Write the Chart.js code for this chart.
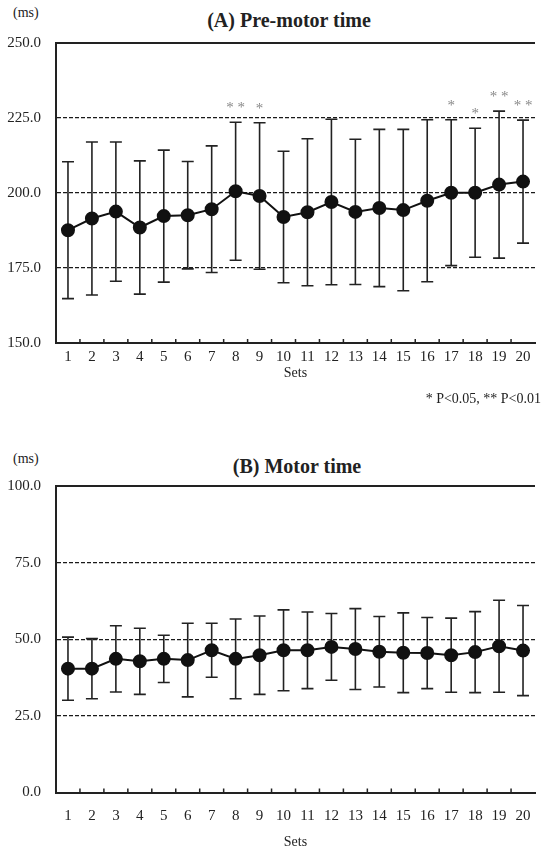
<!DOCTYPE html>
<html>
<head>
<meta charset="utf-8">
<script src="https://cdn.jsdelivr.net/npm/chart.js@4.4.0/dist/chart.umd.min.js"></script>
<style>
    body { margin: 0; background: #fff; width: 541px; height: 851px; overflow: hidden; position: relative;
           font-family: "Liberation Serif", "Times New Roman", serif; color: #222; }
    .lbl { position: absolute; white-space: nowrap; line-height: 1; }
    .ttl { font-weight: bold; font-size: 20px; transform: translateX(-50%); }
    .unit { font-size: 14px; }
    canvas { position: absolute; left: 0; }
</style>
</head>
<body>
<div class="lbl unit" style="left:13px; top:6px;">(ms)</div>
<div class="lbl ttl" style="left:289px; top:10px;">(A) Pre-motor time</div>
<canvas id="premotorChart" width="543" height="420" style="top:0;"></canvas>
<div class="lbl unit" style="right:0; top:392px;">* P&lt;0.05, ** P&lt;0.01</div>

<div class="lbl unit" style="left:13px; top:452px;">(ms)</div>
<div class="lbl ttl" style="left:297px; top:456px;">(B) Motor time</div>
<canvas id="motorChart" width="543" height="431" style="top:420px;"></canvas>

<script>
const sets = ['1', '2', '3', '4', '5', '6', '7', '8', '9', '10', '11', '12', '13', '14', '15', '16', '17', '18', '19', '20'];

// (A) pre-motor time, mean and SD (ms)
const premotorMean = [187.6, 191.5, 193.8, 188.5, 192.3, 192.6, 194.6, 200.6, 199.0, 192.0,
                      193.6, 197.0, 193.7, 195.0, 194.3, 197.4, 200.1, 200.1, 202.8, 203.8];
const premotorSd = [22.8, 25.5, 23.2, 22.2, 22.0, 17.9, 21.1, 23.0, 24.4, 21.9,
                    24.5, 27.6, 24.2, 26.2, 26.9, 27.0, 24.3, 21.5, 24.5, 20.5];
const premotorSig = ['', '', '', '', '', '', '', '**', '*', '',
                     '', '', '', '', '', '', '*', '*', '**', '**'];

// (B) motor time, mean and SD (ms)
const motorMean = [40.4, 40.4, 43.6, 42.8, 43.6, 43.2, 46.4, 43.6, 44.8, 46.4,
                   46.4, 47.5, 46.8, 45.9, 45.6, 45.5, 44.8, 45.8, 47.7, 46.3];
const motorSd = [10.3, 9.8, 10.8, 10.8, 7.7, 12.0, 8.8, 13.0, 12.8, 13.2,
                 12.5, 10.9, 13.2, 11.5, 13.0, 11.6, 12.1, 13.2, 15.0, 14.7];

const FONT = '"Liberation Serif", "Times New Roman", serif';
const INK = '#222';

// vertical SD bars with caps, under the line
const errorBars = {
    id: 'errorBars',
    beforeDatasetsDraw(chart, args, opts) {
        const ctx = chart.ctx;
        const y = chart.scales.y;
        const ds = chart.data.datasets[0];
        const meta = chart.getDatasetMeta(0);
        ctx.save();
        ctx.strokeStyle = INK;
        ctx.lineWidth = 1.6;
        meta.data.forEach((pt, i) => {
            const top = y.getPixelForValue(ds.data[i] + opts.sd[i]);
            const bot = y.getPixelForValue(ds.data[i] - opts.sd[i]);
            ctx.beginPath();
            ctx.moveTo(pt.x, top); ctx.lineTo(pt.x, bot);
            ctx.moveTo(pt.x - 6, top); ctx.lineTo(pt.x + 6, top);
            ctx.moveTo(pt.x - 6, bot); ctx.lineTo(pt.x + 6, bot);
            ctx.stroke();
        });
        ctx.restore();
    }
};

// significance stars above the upper caps
const stars = {
    id: 'stars',
    afterDatasetsDraw(chart, args, opts) {
        if (!opts.marks) return;
        const ctx = chart.ctx;
        const y = chart.scales.y;
        const ds = chart.data.datasets[0];
        const meta = chart.getDatasetMeta(0);
        ctx.save();
        ctx.fillStyle = '#888';
        ctx.font = '15px ' + FONT;
        ctx.textAlign = 'center';
        ctx.textBaseline = 'middle';
        meta.data.forEach((pt, i) => {
            if (!opts.marks[i]) return;
            const top = y.getPixelForValue(ds.data[i] + opts.sd[i]);
            ctx.fillText(opts.marks[i].split('').join(' '), pt.x, top - 14);
        });
        ctx.restore();
    }
};

// solid top frame line and small inward ticks between sets
const frame = {
    id: 'frame',
    afterDraw(chart) {
        const ctx = chart.ctx;
        const area = chart.chartArea;
        const x = chart.scales.x;
        ctx.save();
        ctx.strokeStyle = INK;
        ctx.lineWidth = 2;
        ctx.beginPath();
        ctx.moveTo(area.left, area.top); ctx.lineTo(area.right, area.top);
        ctx.stroke();
        ctx.lineWidth = 1.5;
        ctx.beginPath();
        for (let i = 0; i < sets.length - 1; i++) {
            const bx = (x.getPixelForValue(i) + x.getPixelForValue(i + 1)) / 2;
            ctx.moveTo(bx, area.bottom); ctx.lineTo(bx, area.bottom - 4);
        }
        ctx.stroke();
        ctx.restore();
    }
};

function makeChart(id, mean, sd, marks, yMin, yMax, pad) {
    const ctx = document.getElementById(id).getContext('2d');
    return new Chart(ctx, {
        type: 'line',
        data: {
            labels: sets,
            datasets: [{
                data: mean,
                borderColor: '#111',
                borderWidth: 2,
                backgroundColor: '#111',
                pointRadius: 6,
                pointBackgroundColor: '#111',
                pointBorderColor: '#111',
                tension: 0
            }]
        },
        options: {
            responsive: false,
            animation: false,
            devicePixelRatio: 1,
            layout: { padding: { top: pad.top, bottom: pad.bottom, left: 0, right: 0 } },
            scales: {
                x: {
                    offset: true,
                    grid: { display: false },
                    border: { display: true, color: INK, width: 2 },
                    ticks: { color: INK, font: { family: FONT, size: 15 }, padding: pad.tick, maxRotation: 0, autoSkip: false },
                    title: { display: true, text: 'Sets', color: INK, font: { family: FONT, size: 14 }, padding: 0 },
                    afterFit: (s) => { s.height = pad.axisH; }
                },
                y: {
                    min: yMin,
                    max: yMax,
                    ticks: {
                        stepSize: 25,
                        color: INK,
                        font: { family: FONT, size: 15 },
                        padding: 15,
                        callback: (v) => v.toFixed(1)
                    },
                    grid: {
                        drawTicks: false,
                        lineWidth: 1.2,
                        color: (c) => (c.tick && (c.tick.value === yMin || c.tick.value === yMax)) ? 'rgba(0,0,0,0)' : '#1a1a1a'
                    },
                    border: { display: true, color: INK, width: 2, dash: [4, 2] },
                    afterFit: (s) => { s.width = 56; }
                }
            },
            plugins: {
                legend: { display: false },
                tooltip: { enabled: false },
                errorBars: { sd: sd },
                stars: { sd: sd, marks: marks }
            }
        },
        plugins: [errorBars, stars, frame]
    });
}

makeChart('premotorChart', premotorMean, premotorSd, premotorSig, 150, 250,
          { top: 43, bottom: 38.6, axisH: 38.4, tick: -3 });
makeChart('motorChart', motorMean, motorSd, null, 0, 100,
          { top: 66, bottom: 0, axisH: 58.5, tick: 7 });
</script>
</body>
</html>
